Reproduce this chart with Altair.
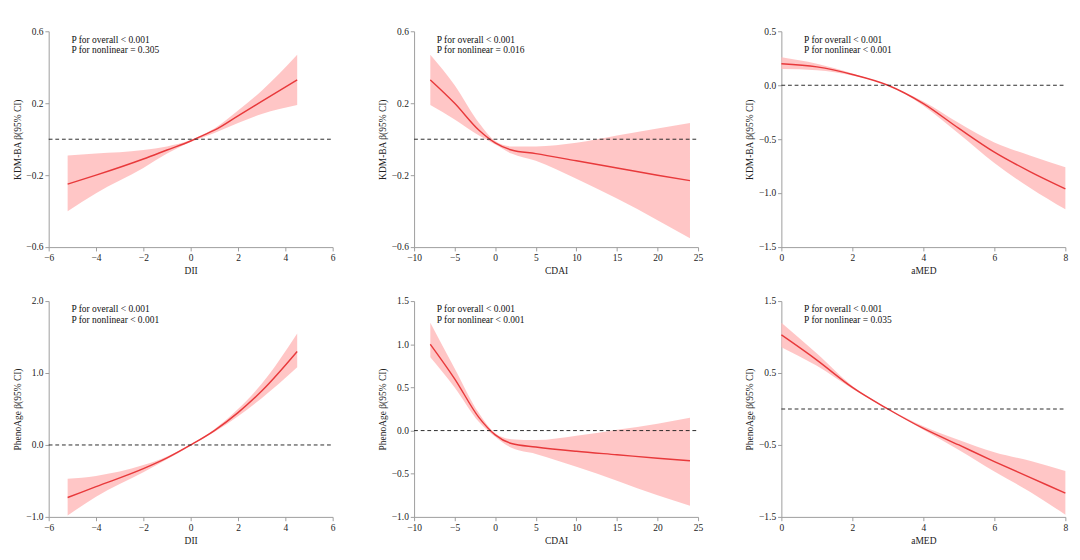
import altair as alt
import pandas as pd

# panel 1: KDM-BA vs DII
dii_x1 = [-5.2, -4, -2, -1, 0, 0.5, 1, 2, 3, 4.5]
dii_est1 = [-0.25, -0.2, -0.11, -0.06, -0.01, 0.02, 0.05, 0.13, 0.21, 0.33]
dii_lo1 = [-0.40, -0.30, -0.16, -0.08, -0.015, 0.01, 0.035, 0.09, 0.14, 0.19]
dii_hi1 = [-0.09, -0.08, -0.06, -0.04, -0.005, 0.025, 0.06, 0.16, 0.27, 0.47]

# panel 2: KDM-BA vs CDAI
cdai_x1 = [-8, -5, -2, 0, 2, 5, 10, 15, 20, 24]
cdai_est1 = [0.33, 0.2, 0.05, -0.02, -0.06, -0.08, -0.12, -0.16, -0.2, -0.23]
cdai_lo1 = [0.19, 0.11, 0.02, -0.03, -0.08, -0.12, -0.22, -0.33, -0.45, -0.55]
cdai_hi1 = [0.47, 0.3, 0.09, -0.01, -0.04, -0.04, -0.02, 0.02, 0.06, 0.09]

# panel 3: KDM-BA vs aMED
amed_x1 = [0, 1, 2, 3, 4, 5, 6, 7, 8]
amed_est1 = [0.2, 0.17, 0.1, 0.0, -0.17, -0.4, -0.62, -0.8, -0.96]
amed_lo1 = [0.15, 0.14, 0.09, 0.0, -0.19, -0.45, -0.72, -0.95, -1.15]
amed_hi1 = [0.26, 0.2, 0.11, 0.0, -0.15, -0.35, -0.53, -0.65, -0.76]

# panel 4: PhenoAge vs DII
dii_x2 = [-5.2, -4, -2, -1, 0, 1, 2, 3, 4.5]
dii_est2 = [-0.73, -0.58, -0.33, -0.18, 0, 0.2, 0.45, 0.75, 1.3]
dii_lo2 = [-0.98, -0.72, -0.38, -0.2, -0.01, 0.18, 0.4, 0.65, 1.08]
dii_hi2 = [-0.47, -0.43, -0.28, -0.16, 0.01, 0.22, 0.5, 0.85, 1.55]

# panel 5: PhenoAge vs CDAI
cdai_x2 = [-8, -5, -2, 0, 2, 5, 10, 15, 20, 24]
cdai_est2 = [1.0, 0.6, 0.15, -0.05, -0.15, -0.19, -0.24, -0.28, -0.32, -0.35]
cdai_lo2 = [0.85, 0.5, 0.1, -0.07, -0.2, -0.27, -0.42, -0.58, -0.75, -0.87]
cdai_hi2 = [1.25, 0.72, 0.2, -0.03, -0.1, -0.11, -0.06, 0.01, 0.08, 0.15]

# panel 6: PhenoAge vs aMED
amed_x2 = [0, 1, 2, 3, 4, 5, 6, 7, 8]
amed_est2 = [1.03, 0.68, 0.3, 0, -0.27, -0.5, -0.73, -0.95, -1.17]
amed_lo2 = [0.86, 0.6, 0.28, -0.01, -0.29, -0.57, -0.87, -1.15, -1.47]
amed_hi2 = [1.2, 0.77, 0.32, 0.01, -0.24, -0.43, -0.6, -0.72, -0.86]

FONT = "Liberation Serif"
W, H = 300, 228


def panel(xs, est, lo, hi, xname, yname, xdom, ydom, xticks, yticks, p1, p2):
    df = pd.DataFrame({"x": xs, "est": est, "lo": lo, "hi": hi})
    xenc = alt.X("x:Q", title=xname, scale=alt.Scale(domain=xdom, nice=False),
                 axis=alt.Axis(values=xticks, format="d"))
    yscale = alt.Scale(domain=ydom, nice=False)
    band = alt.Chart(df).mark_area(color="#ffbcbc", opacity=0.85, interpolate="monotone").encode(
        x=xenc,
        y=alt.Y("lo:Q", title=f"{yname}  β(95% CI)", scale=yscale, axis=alt.Axis(values=yticks, format=".1f")),
        y2="hi:Q",
    )
    line = alt.Chart(df).mark_line(color="#e8393b", strokeWidth=1.5, interpolate="monotone").encode(
        x=xenc, y=alt.Y("est:Q", scale=yscale))
    zero = alt.Chart(pd.DataFrame({"z": [0]})).mark_rule(
        color="#222", strokeDash=[4, 3], strokeWidth=1
    ).encode(y=alt.Y("z:Q", scale=yscale), x=alt.value(0), x2=alt.value(W))
    t1 = alt.Chart(pd.DataFrame({"t": [f"P for overall < {p1}"]})).mark_text(
        align="left", baseline="top", font=FONT, fontSize=10, color="#111"
    ).encode(text="t:N", x=alt.value(24), y=alt.value(4))
    t2 = alt.Chart(pd.DataFrame({"t": [f"P for nonlinear {p2}"]})).mark_text(
        align="left", baseline="top", font=FONT, fontSize=10, color="#111"
    ).encode(text="t:N", x=alt.value(24), y=alt.value(15))
    return alt.layer(band, line, zero, t1, t2).properties(width=W, height=H)


dii_ticks = [-6, -4, -2, 0, 2, 4, 6]
cdai_ticks = [-10, -5, 0, 5, 10, 15, 20, 25]
amed_ticks = [0, 2, 4, 6, 8]

row1 = alt.hconcat(
    panel(dii_x1, dii_est1, dii_lo1, dii_hi1, "DII", "KDM-BA", [-6, 6], [-0.6, 0.6], dii_ticks,
          [-0.6, -0.4, -0.2, 0, 0.2, 0.4, 0.6], "0.001", "= 0.305"),
    panel(cdai_x1, cdai_est1, cdai_lo1, cdai_hi1, "CDAI", "KDM-BA", [-10, 25], [-0.6, 0.6], cdai_ticks,
          [-0.6, -0.4, -0.2, 0, 0.2, 0.4, 0.6], "0.001", "= 0.016"),
    panel(amed_x1, amed_est1, amed_lo1, amed_hi1, "aMED", "KDM-BA", [0, 8], [-1.5, 0.5], amed_ticks,
          [-1.5, -1.0, -0.5, 0, 0.5], "0.001", "< 0.001"),
    spacing=44,
)
row2 = alt.hconcat(
    panel(dii_x2, dii_est2, dii_lo2, dii_hi2, "DII", "PhenoAge", [-6, 6], [-1.0, 2.0], dii_ticks,
          [-1.0, -0.5, 0, 0.5, 1.0, 1.5, 2.0], "0.001", "< 0.001"),
    panel(cdai_x2, cdai_est2, cdai_lo2, cdai_hi2, "CDAI", "PhenoAge", [-10, 25], [-1.0, 1.5], cdai_ticks,
          [-1.0, -0.5, 0, 0.5, 1.0, 1.5], "0.001", "< 0.001"),
    panel(amed_x2, amed_est2, amed_lo2, amed_hi2, "aMED", "PhenoAge", [0, 8], [-1.5, 1.5], amed_ticks,
          [-1.5, -1.0, -0.5, 0, 0.5, 1.0, 1.5], "0.001", "= 0.035"),
    spacing=44,
)

chart = (
    alt.vconcat(row1, row2, spacing=22, background="white", padding={"left": 4, "top": 4, "right": 4, "bottom": 2})
    .configure_view(stroke=None)
    .configure_axis(
        grid=False, labelFont=FONT, titleFont=FONT, labelFontSize=10, titleFontSize=10,
        titleFontWeight="normal", domainColor="#999", tickColor="#999", labelColor="#222",
        titleColor="#222", tickSize=4, titlePadding=4, labelOverlap=False, labelFlush=False,
    )
)

chart.save("out.html", embed_options={"renderer": "svg", "actions": False})
